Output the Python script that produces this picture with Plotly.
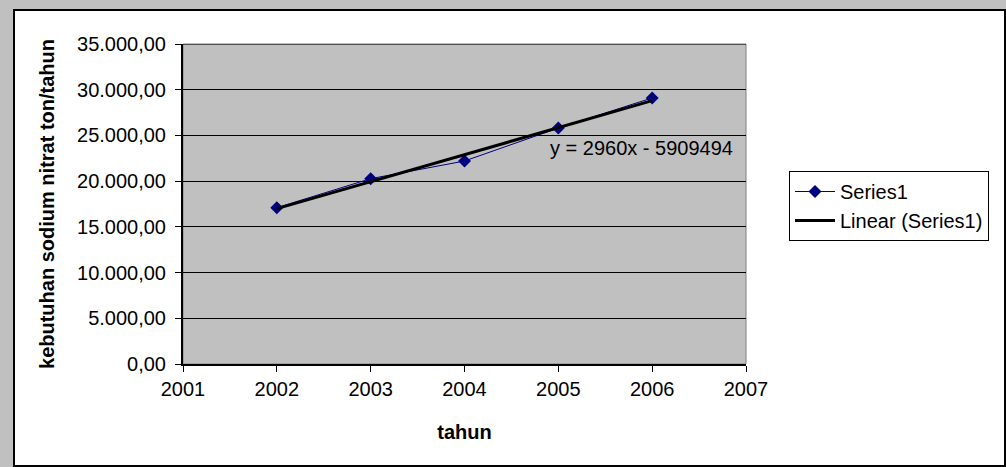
import numpy as np
import plotly.graph_objects as go

years = [2002, 2003, 2004, 2005, 2006]
values = [17100, 20270, 22200, 25810, 29100]
series_name = "Series1"
trend_name = "Linear (Series1)"
equation_text = "y = 2960x - 5909494"
x_title = "tahun"
y_title = "kebutuhan sodium nitrat ton/tahun"
y_ticks = [0, 5000, 10000, 15000, 20000, 25000, 30000, 35000]
x_ticks = [2001, 2002, 2003, 2004, 2005, 2006, 2007]

# linear trend computed from the data
coef = np.polyfit(years, values, 1)
trend = [float(np.polyval(coef, x)) for x in years]

W, H = 1006, 467
L, R, T, B = 183, 746, 44, 364

def px(x):
    return (x - L) / (R - L)

def py(y):
    return (B - y) / (B - T)

FONT = "Liberation Sans, Arial, sans-serif"
FS = 20

fig = go.Figure()
fig.add_trace(go.Scatter(
    x=years, y=values, mode="lines+markers", name=series_name,
    line=dict(color="#000080", width=1),
    marker=dict(symbol="diamond", size=10, color="#000080"),
))
fig.add_trace(go.Scatter(
    x=years, y=trend, mode="lines", name=trend_name,
    line=dict(color="#000000", width=3),
))

fig.update_layout(
    width=W, height=H,
    margin=dict(l=L, r=W - R, t=T, b=H - B, pad=0),
    paper_bgcolor="#C0C0C0",
    plot_bgcolor="#C0C0C0",
    font=dict(family=FONT, size=FS, color="#000000"),
    separators=",.",
    showlegend=True,
    legend=dict(
        x=px(789), y=py(171), xanchor="left", yanchor="top",
        bgcolor="#FFFFFF", bordercolor="#000000", borderwidth=1,
        font=dict(family=FONT, size=FS, color="#000000"),
        tracegroupgap=0, itemwidth=40,
    ),
    xaxis=dict(
        range=[2001, 2007], tickvals=x_ticks, ticktext=[str(v) for v in x_ticks],
        showgrid=False, zeroline=False,
        showline=True, linecolor="#000000", linewidth=2,
        ticks="outside", ticklen=6, tickcolor="#000000", tickwidth=1,
        tickfont=dict(family=FONT, size=FS),
        title=dict(text="<b>" + x_title + "</b>", font=dict(family=FONT, size=FS), standoff=26),
    ),
    yaxis=dict(
        range=[0, 35000], tickvals=y_ticks, tickformat=",.2f",
        showgrid=True, gridcolor="#000000", gridwidth=1,
        zeroline=False,
        showline=True, linecolor="#000000", linewidth=2,
        ticks="outside", ticklen=6, tickcolor="#000000", tickwidth=1,
        ticklabelstandoff=5,
        tickfont=dict(family=FONT, size=FS),
        title=dict(text="<b>" + y_title + "</b>", font=dict(family=FONT, size=FS), standoff=17),
    ),
    shapes=[
        dict(type="rect", xref="paper", yref="paper",
             x0=px(14), x1=px(1005), y0=py(466), y1=py(10),
             fillcolor="#FFFFFF", line=dict(color="#000000", width=2), layer="below"),
        dict(type="rect", xref="paper", yref="paper",
             x0=0, x1=1, y0=0, y1=1,
             fillcolor="#C0C0C0", line=dict(color="#808080", width=1), layer="below"),
        dict(type="line", xref="paper", yref="y",
             x0=0, x1=1, y0=35000, y1=35000, line=dict(color="#000000", width=1), layer="above"),
    ],
    annotations=[
        dict(text=equation_text, x=px(641), y=py(148), xref="paper", yref="paper",
             xanchor="center", yanchor="middle", showarrow=False,
             font=dict(family=FONT, size=FS, color="#000000")),
    ],
)

fig.write_html("out.html", config={"displayModeBar": False},
               post_script="document.body.style.margin='0';document.body.style.overflow='hidden';")
